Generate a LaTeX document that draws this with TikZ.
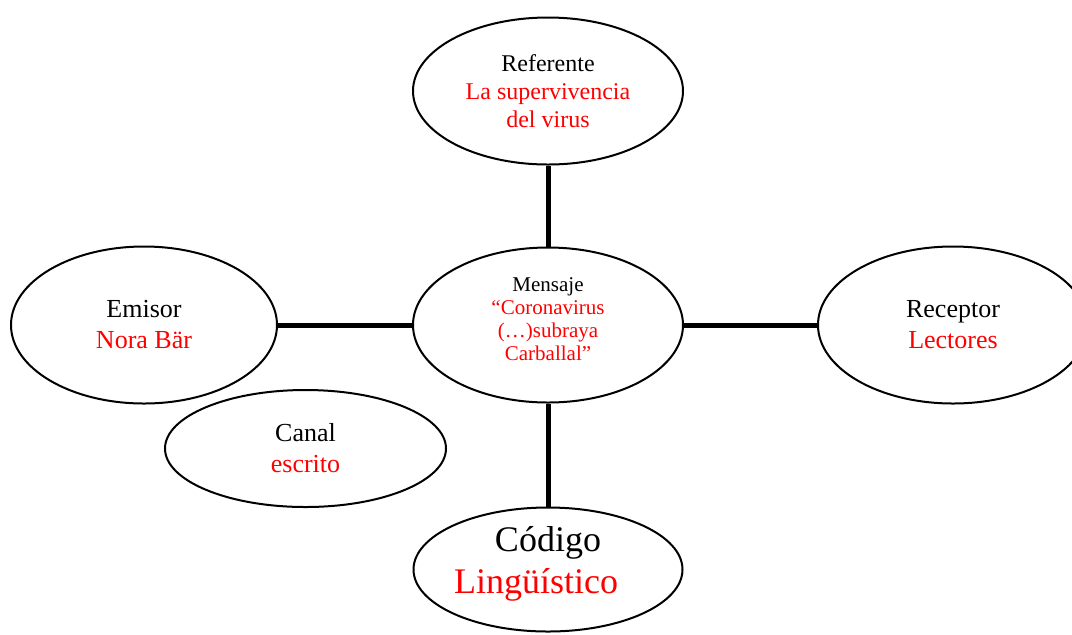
\documentclass[tikz,border=0pt]{standalone}
\usepackage{fontspec}
\setmainfont{Liberation Serif}
\usepackage{tikz}
\usetikzlibrary{shapes.geometric,positioning}

\begin{document}
\begin{tikzpicture}[x=0.5pt,y=-0.5pt]
\tikzstyle{main}=[ellipse, draw=black, line width=1pt, inner sep=0pt, align=center, font=\fontsize{13}{15.5}\selectfont]
\tikzstyle{connect}=[line width=2.5pt]
\useasboundingbox (0,0) rectangle (1072,634);
  \node[main, minimum width=135pt, minimum height=77.5pt, font=\fontsize{10.5}{11.5}\selectfont] (mensaje) at (548,325) {Mensaje\\\textcolor{red}{“Coronavirus}\\\textcolor{red}{(…)subraya}\\\textcolor{red}{Carballal”}\rule[-6pt]{0pt}{6pt}};
  \node[main, minimum width=135pt, minimum height=73.5pt, font=\fontsize{12}{14}\selectfont] (referente) [above=40.5pt of mensaje] {Referente\\\textcolor{red}{La supervivencia}\\\textcolor{red}{del virus}};
  \node[main, minimum width=133pt, minimum height=78.5pt] (emisor) [left=67pt of mensaje] {Emisor\\\textcolor{red}{Nora Bär}};
  \node[main, minimum width=135pt, minimum height=78.5pt] (receptor) [right=66.5pt of mensaje] {Receptor\\\textcolor{red}{Lectores}};
  \node[main, minimum width=134.5pt, minimum height=62pt, font=\fontsize{18}{21}\selectfont] (codigo) [below=51.5pt of mensaje] {Código\\\textcolor{red}{Lingüístico}\kern12pt\rule[-10pt]{0pt}{10pt}};
  \node[main, minimum width=140.5pt, minimum height=58.5pt] (canal) at (305.5,448.5) {Canal\\\textcolor{red}{escrito}};

  \path (referente) edge [connect] (mensaje)
        (emisor) edge [connect] (mensaje)
        (mensaje) edge [connect] (receptor)
        (mensaje) edge [connect] (codigo);
\end{tikzpicture}
\end{document}
